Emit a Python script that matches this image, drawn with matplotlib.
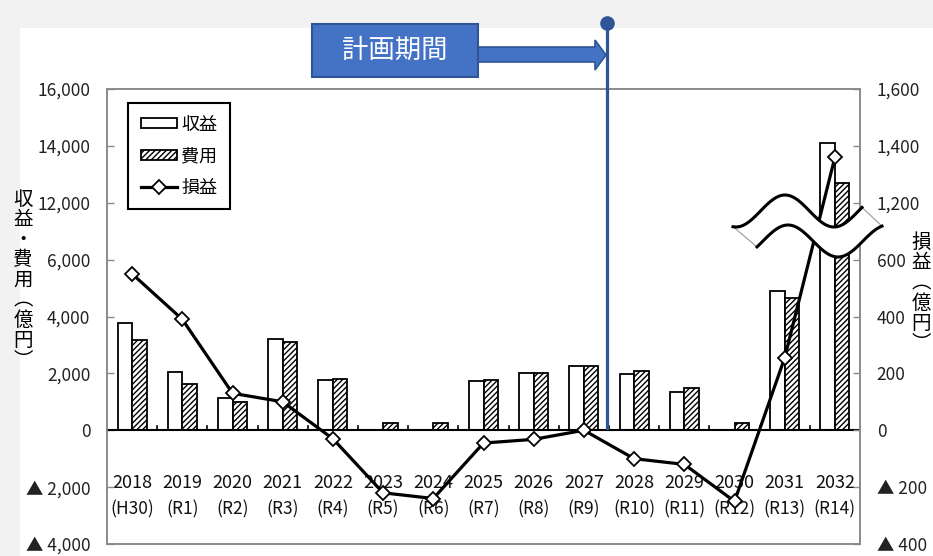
import numpy as np
import matplotlib
matplotlib.use("Agg")
import matplotlib.pyplot as plt
from matplotlib.patches import Rectangle, Polygon, Circle
from matplotlib.lines import Line2D

plt.rcParams['font.family'] = ['Noto Sans CJK JP', 'DejaVu Sans']
plt.rcParams['hatch.linewidth'] = 1.0

# ---------------- data ----------------
years = ['2018', '2019', '2020', '2021', '2022', '2023', '2024', '2025',
         '2026', '2027', '2028', '2029', '2030', '2031', '2032']
eras = ['(H30)', '(R1)', '(R2)', '(R3)', '(R4)', '(R5)', '(R6)', '(R7)',
        '(R8)', '(R9)', '(R10)', '(R11)', '(R12)', '(R13)', '(R14)']
revenue = [3760, 2050, 1150, 3200, 1780, 0, 0, 1730, 2000, 2250, 1970, 1330, 0, 4900, 14100]
expense = [3180, 1640, 1010, 3110, 1800, 260, 260, 1760, 2030, 2250, 2100, 1470, 260, 4650, 12700]
profit = [550, 390, 130, 100, -30, -220, -240, -45, -32, 0, -100, -120, -250, 255, 1360]

left_ticks = [-4000, -2000, 0, 2000, 4000, 6000, 12000, 14000, 16000]
left_labels = ['▲ 4,000', '▲ 2,000', '0', '2,000', '4,000', '6,000', '12,000', '14,000', '16,000']
right_ticks = [-400, -200, 0, 200, 400, 600, 1200, 1400, 1600]
right_labels = ['▲ 400', '▲ 200', '0', '200', '400', '600', '1,200', '1,400', '1,600']

legend_labels = ['収益', '費用', '損益']
left_title = '収益・費用（億円）'
right_title = '損益（億円）'
plan_label = '計画期間'

# broken-axis mapping (8,000-10,000 and 800-1,000 omitted)
def tl(v):
    v = np.asarray(v, dtype=float)
    return np.where(v > 6000, v - 4000, v)

def tr(v):
    v = np.asarray(v, dtype=float)
    return np.where(v > 600, v - 400, v)

W, H = 933, 556
fig = plt.figure(figsize=(W / 100, H / 100), dpi=100)
fig.patch.set_facecolor('#f2f2f2')

def px(x, y):
    return (x / W, 1 - y / H)

# white page area
fig.add_artist(Rectangle(px(20, 556), (W - 20) / W, (556 - 28) / H,
                         transform=fig.transFigure, facecolor='white',
                         edgecolor='none', zorder=-5))

L, R, T, B = 107, 860, 89, 544
ax = fig.add_axes([L / W, 1 - B / H, (R - L) / W, (B - T) / H])
ax.set_facecolor('white')
ax2 = ax.twinx()

x = np.arange(len(years))
bw = 0.29
ax.bar(x - bw / 2, tl(revenue), width=bw, facecolor='white', edgecolor='black',
       linewidth=1.3, label=legend_labels[0], zorder=2)
ax.bar(x + bw / 2, tl(expense), width=bw, facecolor='white', edgecolor='black',
       hatch='//////', linewidth=1.3, label=legend_labels[1], zorder=2)

ax.set_xlim(-0.5, len(years) - 0.5)
ax.set_ylim(-4000, 12000)
ax.set_yticks(tl(left_ticks))
ax.set_yticklabels(left_labels)
ax.set_xticks([])

ax2.plot(x, tr(profit), color='black', linewidth=2.3, marker='D', markersize=7,
         markerfacecolor='white', markeredgecolor='black', markeredgewidth=1.3,
         label=legend_labels[2], zorder=5)
ax2.set_ylim(-400, 1200)
ax2.set_yticks(tr(right_ticks))
ax2.set_yticklabels(right_labels)

for a in (ax, ax2):
    for s in a.spines.values():
        s.set_color('#8a8a8a')
        s.set_linewidth(1.2)
    a.tick_params(axis='y', direction='in', length=5, width=1, color='#8a8a8a',
                  labelsize=12.5, pad=12, labelcolor='#222222')

# zero line with category ticks
ax.axhline(0, color='black', linewidth=1.5, zorder=3)
for k in range(1, len(years)):
    ax.plot([k - 0.5, k - 0.5], [0, 150], color='black', linewidth=1.2, zorder=3)

# category labels inside the plot
for i in range(len(years)):
    ax.text(i, -1850, years[i], ha='center', va='center', fontsize=13, color='#111111', zorder=1)
    ax.text(i, -2800, eras[i], ha='center', va='center', fontsize=12.5, color='#111111', zorder=1)

ax.set_zorder(ax2.get_zorder() - 1)
ax.patch.set_visible(True)
ax2.patch.set_visible(False)

# legend
h1, l1 = ax.get_legend_handles_labels()
h2, l2 = ax2.get_legend_handles_labels()
leg = ax2.legend(h1 + h2, l1 + l2, loc='upper left',
                 bbox_to_anchor=((128 - L) / (R - L), (B - 103) / (B - T)),
                 borderaxespad=0, fancybox=False, framealpha=1, edgecolor='black',
                 fontsize=13, handlelength=2.0, handleheight=0.5, handletextpad=0.25,
                 labelspacing=0.75, borderpad=0.7)
leg.get_frame().set_linewidth(1.5)

# axis titles (vertical)
def vert(s):
    return '\n'.join(s.replace('（', '︵').replace('）', '︶'))

fig.text(23 / W, 1 - 280 / H, vert(left_title), ha='center', va='center',
         fontsize=14, linespacing=0.95)
fig.text(921 / W, 1 - 293 / H, vert(right_title), ha='center', va='center',
         fontsize=14, linespacing=0.95)

# plan period marker
blue = '#4472C4'
dark = '#2F5597'
fig.add_artist(Line2D([607 / W, 607 / W], [1 - 23 / H, 1 - 428 / H],
                      transform=fig.transFigure, color=dark, linewidth=2.3, zorder=11))
fig.add_artist(Polygon([px(478, 47), px(595, 47), px(595, 40), px(606, 55),
                        px(595, 70), px(595, 62), px(478, 62)],
                       closed=True, transform=fig.transFigure, facecolor=blue,
                       edgecolor=dark, linewidth=1.2, zorder=12))
fig.add_artist(Rectangle(px(312, 77), (478 - 312) / W, (77 - 24) / H,
                         transform=fig.transFigure, facecolor=blue, edgecolor=dark,
                         linewidth=1.5, zorder=12))
fig.text(395 / W, 1 - 50 / H, plan_label, ha='center', va='center', color='white',
         fontsize=19, zorder=13)
fig.add_artist(Polygon([(607 / W, 1 - 23 / H)], closed=True, transform=fig.transFigure,
                       visible=False))
fig.add_artist(Line2D([607 / W], [1 - 23 / H], transform=fig.transFigure, marker='o',
                      markersize=9.5, color=dark, zorder=12))

# wavy break symbol
xu = np.linspace(733, 862, 80)
yu = 211 - 16 * np.cos(2 * np.pi * (xu - 785) / 98)
xl = np.linspace(882, 757, 80)
yl = 241 - 16 * np.cos(2 * np.pi * (xl - 788) / 100)
pts = [px(a, b) for a, b in zip(xu, yu)] + [px(a, b) for a, b in zip(xl, yl)]
fig.add_artist(Polygon(pts, closed=True, transform=fig.transFigure, facecolor='white',
                       edgecolor='#999999', linewidth=0.8, zorder=10))
fig.add_artist(Line2D(xu / W, 1 - yu / H, transform=fig.transFigure, color='black',
                      linewidth=2.2, zorder=10.5))
fig.add_artist(Line2D(xl / W, 1 - yl / H, transform=fig.transFigure, color='black',
                      linewidth=2.2, zorder=10.5))

fig.savefig('out.png', dpi=100, facecolor=fig.get_facecolor())
